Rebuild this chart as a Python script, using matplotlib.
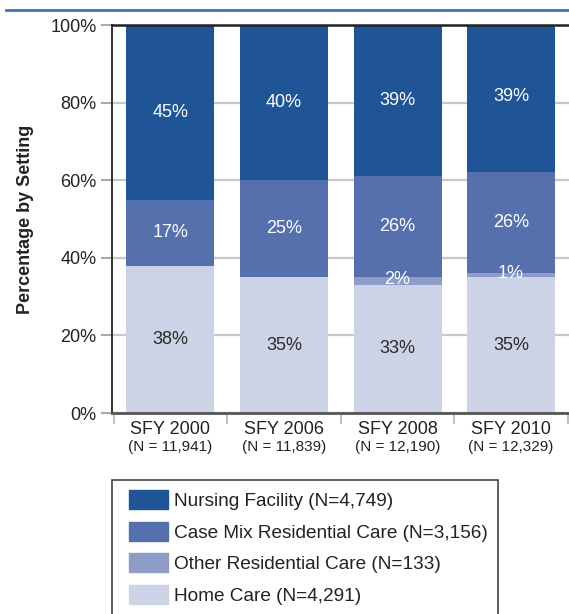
import matplotlib.pyplot as plt
from matplotlib.lines import Line2D
from matplotlib.patches import Rectangle
from matplotlib.ticker import FixedLocator, PercentFormatter

plt.rcParams['font.family'] = ['Liberation Sans', 'DejaVu Sans']

# Shares by care setting, percent of each fiscal year
years = ['SFY 2000', 'SFY 2006', 'SFY 2008', 'SFY 2010']
totals = ['(N = 11,941)', '(N = 11,839)', '(N = 12,190)', '(N = 12,329)']
home_care = [38, 35, 33, 35]
other_res = [0, 0, 2, 1]
case_mix = [17, 25, 26, 26]
nursing = [45, 40, 39, 39]

series = [
    ('Home Care (N=4,291)', home_care, '#cdd3e7', '#2a2a2a'),
    ('Other Residential Care (N=133)', other_res, '#8e9cc9', 'white'),
    ('Case Mix Residential Care (N=3,156)', case_mix, '#5670ae', 'white'),
    ('Nursing Facility (N=4,749)', nursing, '#1f5597', 'white'),
]

W, H = 569, 614
fig = plt.figure(figsize=(W / 100, H / 100), dpi=100)
ax = fig.add_axes([112 / W, 1 - 413 / H, 457 / W, 388 / H])

x = list(range(len(years)))
bottom = [0] * len(years)
handles = []
for name, vals, color, txt_color in series:
    ax.bar(x, vals, width=0.775, bottom=bottom, color=color, zorder=2)
    for i, v in enumerate(vals):
        if v == 0:
            continue
        yc = bottom[i] + v / 2
        if v < 5:
            yc += 0.5
        ax.text(x[i], yc, f'{v}%', ha='center', va='center',
                fontsize=13, color=txt_color, zorder=3)
    bottom = [b + v for b, v in zip(bottom, vals)]
    handles.append((name, color))

ax.set_xlim(-0.515, 3.51)
ax.set_ylim(0, 100)
ax.yaxis.set_major_formatter(PercentFormatter(decimals=0))
ax.set_yticks([0, 20, 40, 60, 80, 100])
ax.tick_params(axis='y', labelsize=13, colors='#aaaaaa', labelcolor='#222222',
               length=8, width=1.5, pad=3)
ax.grid(axis='y', color='#c8c8c8', lw=1.6, zorder=0)

ax.set_xticks(x)
ax.set_xticklabels([''] * len(years))
ax.tick_params(axis='x', which='major', length=0)
ax.xaxis.set_minor_locator(FixedLocator([-0.5, 0.5, 1.5, 2.5, 3.5]))
ax.tick_params(axis='x', which='minor', length=8, width=1.5, color='#c0c0c0')
for i in x:
    ax.text(i, -2.0, years[i], ha='center', va='top', fontsize=13,
            color='#222222', clip_on=False)
    ax.text(i, -7.0, totals[i], ha='center', va='top', fontsize=11,
            color='#222222', clip_on=False)

ax.set_ylabel('Percentage by Setting', fontsize=13, fontweight='bold',
              color='#222222')
ax.yaxis.set_label_coords(-0.17, 0.5)

ax.spines['left'].set_color('#222222')
ax.spines['left'].set_linewidth(1.3)
ax.spines['top'].set_color('#222222')
ax.spines['top'].set_linewidth(1.8)
ax.spines['bottom'].set_color('#555555')
ax.spines['bottom'].set_linewidth(2)
ax.spines['right'].set_visible(False)

# thin rule across the top of the page
fig.add_artist(Line2D([6 / W, 1], [1 - 10 / H] * 2, color='#3f72b0', lw=2))

# legend box runs off the bottom of the page
fig.add_artist(Rectangle((112 / W, 1 - 640 / H), 386 / W, 160 / H,
                         transform=fig.transFigure, fill=False,
                         edgecolor='#444444', lw=1.2))
legend_items = [Rectangle((0, 0), 1, 1, color=c) for _, c in handles[::-1]]
legend_names = [n for n, _ in handles[::-1]]
leg = fig.legend(legend_items, legend_names, loc='upper left',
                 bbox_to_anchor=(129 / W, 1 - 490 / H),
                 fontsize=13.7, frameon=False,
                 handlelength=2.05, handleheight=1.15, handletextpad=0.3,
                 labelspacing=0.62, borderpad=0, borderaxespad=0)
for t in leg.get_texts():
    t.set_color('#222222')

fig.savefig('out.png', dpi=100)
